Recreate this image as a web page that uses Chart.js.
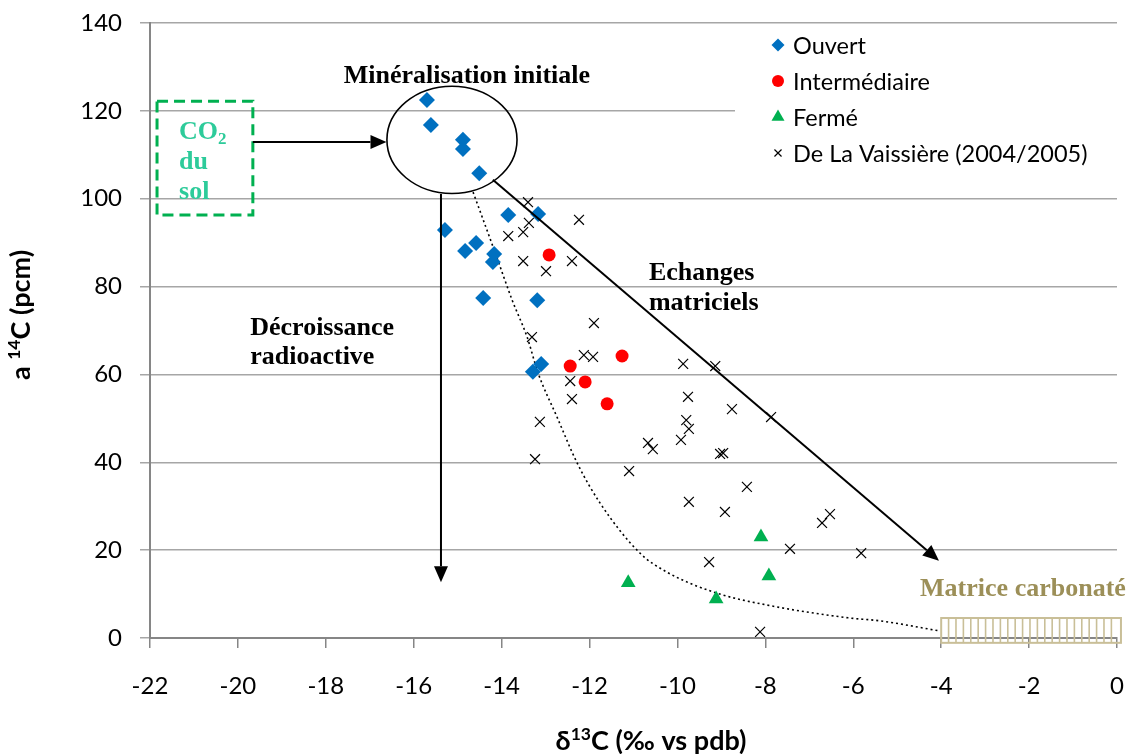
<!DOCTYPE html>
<html>
<head>
<meta charset="utf-8">
<script src="https://cdn.jsdelivr.net/npm/chart.js@4.4.1/dist/chart.umd.min.js"></script>
<style>
  html, body { margin: 0; padding: 0; background: #fff; }
  canvas { display: block; }
</style>
</head>
<body>
<canvas id="isoChart" width="1136" height="754"></canvas>
<script>
// d13C (‰ vs pdb) / a14C (pcm)
const ouvertX = [-15.70, -15.61, -14.88, -14.88, -14.51, -15.29, -13.85, -13.17, -14.58, -14.83, -14.17, -14.20, -14.42, -13.19, -13.10, -13.29];
const ouvertY = [122.5, 116.8, 113.4, 111.3, 105.8, 92.9, 96.3, 96.5, 89.9, 88.1, 87.4, 85.6, 77.4, 76.9, 62.4, 60.6];

const intermX = [-12.92, -12.44, -12.10, -11.26, -11.60];
const intermY = [87.2, 61.9, 58.3, 64.2, 53.3];

const fermeX = [-11.12, -9.12, -8.10, -7.92];
const fermeY = [12.6, 8.9, 23.0, 14.1];

const vaissiereX = [-13.40, -12.24, -13.38, -13.51, -13.85, -13.51, -12.40, -12.99, -11.90, -13.31,
  -12.13, -11.92, -9.87, -9.14, -12.44, -12.40, -9.76, -8.76, -7.87, -13.13,
  -9.80, -9.74, -9.92, -10.67, -10.56, -9.03, -8.96, -13.24, -11.10, -8.42,
  -9.74, -8.92, -6.53, -6.71, -7.44, -5.82, -9.28, -8.12];
const vaissiereY = [99.2, 95.2, 94.5, 92.4, 91.5, 85.8, 85.8, 83.5, 71.7, 68.5,
  64.4, 64.0, 62.4, 61.9, 58.5, 54.4, 54.9, 52.1, 50.3, 49.2,
  49.6, 47.6, 45.1, 44.4, 43.0, 41.9, 42.1, 40.7, 38.0, 34.4,
  31.0, 28.7, 28.2, 26.2, 20.3, 19.3, 17.3, 1.4];

// dotted mixing curve
const curveX = [-14.65, -14.15, -13.76, -13.42, -13.17, -12.74, -12.28, -11.76, -10.85, -10.24, -9.10, -7.96, -6.12, -5.39, -4.03];
const curveY = [101.5, 87.8, 76.9, 68.5, 60.3, 50.3, 39.8, 30.7, 19.3, 15.0, 10.2, 7.5, 4.6, 3.9, 1.6];

const seriesNames = ['Ouvert', 'Intermédiaire', 'Fermé', 'De La Vaissière (2004/2005)'];
const xTicks = [-22, -20, -18, -16, -14, -12, -10, -8, -6, -4, -2, 0];
const yTicks = [0, 20, 40, 60, 80, 100, 120, 140];

function pts(xs, ys) {
  return xs.map((x, i) => ({ x: x, y: ys[i] }));
}

const SANS = 'Lato';
const SERIF = '"Liberation Serif"';

const markers = [
  { pointStyle: 'rectRot', color: '#0070C0', radius: 8, legendRadius: 6.5 },
  { pointStyle: 'circle', color: '#FF0000', radius: 6.5, legendRadius: 6 },
  { pointStyle: 'triangle', color: '#00B050', radius: 8.5, legendRadius: 7.5 },
  { pointStyle: 'crossRot', color: '#000000', radius: 7, legendRadius: 5 }
];

const datasets = [
  { label: seriesNames[0], data: pts(ouvertX, ouvertY) },
  { label: seriesNames[1], data: pts(intermX, intermY) },
  { label: seriesNames[2], data: pts(fermeX, fermeY) },
  { label: seriesNames[3], data: pts(vaissiereX, vaissiereY) }
].map((d, i) => Object.assign(d, {
  pointStyle: markers[i].pointStyle,
  pointRadius: markers[i].radius,
  pointHoverRadius: markers[i].radius,
  backgroundColor: markers[i].color,
  borderColor: markers[i].color,
  pointBorderWidth: i === 3 ? 1.2 : 0,
  showLine: false
}));

datasets.push({
  label: 'courbe',
  data: pts(curveX, curveY),
  showLine: true,
  borderColor: '#000',
  borderWidth: 1.6,
  borderDash: [2, 3],
  pointRadius: 0,
  cubicInterpolationMode: 'monotone',
  fill: false
});

// annotation drawing (arrows, ellipse, boxes, labels, legend, axis titles)
function arrow(ctx, x1, y1, x2, y2) {
  const a = Math.atan2(y2 - y1, x2 - x1);
  const len = 16, hw = 7;
  const bx = x2 - Math.cos(a) * len, by = y2 - Math.sin(a) * len;
  ctx.beginPath();
  ctx.moveTo(x1, y1);
  ctx.lineTo(bx, by);
  ctx.stroke();
  ctx.beginPath();
  ctx.moveTo(x2, y2);
  ctx.lineTo(bx - Math.sin(a) * hw, by + Math.cos(a) * hw);
  ctx.lineTo(bx + Math.sin(a) * hw, by - Math.cos(a) * hw);
  ctx.closePath();
  ctx.fill();
}

function supText(ctx, parts, x, y, size, align) {
  // parts: [text, isSup]
  const widths = parts.map(p => {
    ctx.font = 'bold ' + (p[1] ? size * 0.65 : size) + 'px ' + SANS;
    return ctx.measureText(p[0]).width;
  });
  const total = widths.reduce((s, w) => s + w, 0);
  let cx = align === 'center' ? x - total / 2 : x;
  ctx.textAlign = 'left';
  ctx.textBaseline = 'alphabetic';
  parts.forEach((p, i) => {
    ctx.font = 'bold ' + (p[1] ? size * 0.65 : size) + 'px ' + SANS;
    ctx.fillText(p[0], cx, p[1] ? y - size * 0.38 : y);
    cx += widths[i];
  });
}

const annotations = {
  id: 'annotations',
  beforeDatasetsDraw(chart) {
    const ctx = chart.ctx;
    const a = chart.chartArea;
    ctx.save();
    ctx.fillStyle = '#fff';
    ctx.fillRect(735, a.top + 1, a.right - 735, chart.scales.y.getPixelForValue(100) - a.top - 2);
    ctx.restore();
  },
  afterDraw(chart) {
    const ctx = chart.ctx;
    const xs = chart.scales.x, ys = chart.scales.y;
    const px = v => xs.getPixelForValue(v);
    const py = v => ys.getPixelForValue(v);
    ctx.save();

    // CO2 du sol box
    ctx.strokeStyle = '#00B050';
    ctx.lineWidth = 3;
    ctx.setLineDash([11, 6]);
    ctx.strokeRect(px(-21.84), py(122.2), px(-19.66) - px(-21.84), py(96.3) - py(122.2));
    ctx.setLineDash([]);

    // ellipse "minéralisation initiale"
    ctx.strokeStyle = '#000';
    ctx.fillStyle = '#000';
    ctx.lineWidth = 1.6;
    ctx.beginPath();
    ctx.ellipse(px(-15.13), py(113.4), px(-15.13) - px(-16.61), py(101.2) - py(113.4), 0, 0, Math.PI * 2);
    ctx.stroke();

    // arrows
    ctx.lineWidth = 2;
    arrow(ctx, px(-19.66), py(112.9), px(-16.62), py(112.9));
    arrow(ctx, px(-15.38), py(101.1), px(-15.38), py(12.7));
    arrow(ctx, px(-14.20), py(104.3), px(-4.05), py(17.6));

    // Matrice carbonatée block
    const mx1 = px(-4.0), mx2 = px(0.09), my1 = py(4.55), my2 = py(-1.1);
    ctx.strokeStyle = '#C9BF98';
    ctx.lineWidth = 2;
    ctx.strokeRect(mx1, my1, mx2 - mx1, my2 - my1);
    ctx.lineWidth = 1.6;
    for (let x = mx1 + 7.4; x < mx2 - 3; x += 7.4) {
      ctx.beginPath();
      ctx.moveTo(x, my1);
      ctx.lineTo(x, my2);
      ctx.stroke();
    }

    // serif labels
    ctx.textBaseline = 'alphabetic';
    ctx.font = 'bold 26px ' + SERIF;
    ctx.fillStyle = '#000';
    ctx.textAlign = 'center';
    ctx.fillText('Minéralisation initiale', px(-14.79), py(126.3));
    ctx.textAlign = 'left';
    ctx.fillText('Echanges', px(-10.65), py(81.5));
    ctx.fillText('matriciels', px(-10.65), py(74.7));
    ctx.fillText('Décroissance', px(-19.72), py(69.0));
    ctx.fillText('radioactive', px(-19.72), py(62.4));

    ctx.fillStyle = '#2DCB9A';
    const cx = px(-21.34);
    ctx.fillText('CO', cx, py(113.6));
    const coW = ctx.measureText('CO').width;
    ctx.font = 'bold 17px ' + SERIF;
    ctx.fillText('2', cx + coW, py(113.6) + 5);
    ctx.font = 'bold 26px ' + SERIF;
    ctx.fillText('du', cx, py(106.8));
    ctx.fillText('sol', cx, py(99.9));

    ctx.fillStyle = '#9C8F58';
    ctx.fillText('Matrice carbonaté', px(-4.48), py(9.56));

    // legend
    ctx.font = '23.5px ' + SANS;
    ctx.textBaseline = 'middle';
    seriesNames.forEach((name, i) => {
      const y = 45 + i * 36;
      const m = markers[i];
      ctx.fillStyle = m.color;
      ctx.strokeStyle = m.color;
      ctx.lineWidth = 1.2;
      Chart.helpers.drawPoint(ctx, { pointStyle: m.pointStyle, radius: m.legendRadius, borderWidth: i === 3 ? 1.2 : 0, rotation: 0 }, 778, y);
      ctx.fillStyle = '#000';
      ctx.fillText(name, 793, y + 1);
    });

    // axis titles
    ctx.fillStyle = '#000';
    supText(ctx, [['δ', false], ['13', true], ['C (‰ vs pdb)', false]], 651, 750, 27, 'center');
    ctx.translate(30, 315);
    ctx.rotate(-Math.PI / 2);
    supText(ctx, [['a ', false], ['14', true], ['C (pcm)', false]], 0, 0, 27, 'center');

    ctx.restore();
  }
};

new Chart(document.getElementById('isoChart'), {
  type: 'scatter',
  data: { datasets: datasets },
  options: {
    responsive: false,
    animation: false,
    devicePixelRatio: 1,
    layout: { padding: { top: 23, right: 19, left: 0, bottom: 0 } },
    plugins: {
      legend: { display: false },
      tooltip: { enabled: false }
    },
    scales: {
      x: {
        type: 'linear',
        min: -22,
        max: 0,
        afterBuildTicks: s => { s.ticks = xTicks.map(v => ({ value: v })); },
        afterFit: s => { s.height = 116; s.paddingLeft = 0; s.paddingRight = 0; },
        ticks: { color: '#000', font: { family: SANS, size: 24 }, padding: 24, maxRotation: 0 },
        grid: { drawOnChartArea: false, tickLength: 10, color: '#868686', lineWidth: 1.5 },
        border: { color: '#868686', width: 2 }
      },
      y: {
        min: 0,
        max: 140,
        afterBuildTicks: s => { s.ticks = yTicks.map(v => ({ value: v })); },
        afterFit: s => { s.width = 150; s.paddingTop = 0; s.paddingBottom = 0; },
        ticks: { color: '#000', font: { family: SANS, size: 24 }, padding: 18 },
        grid: { tickLength: 10, color: '#A6A6A6', lineWidth: 1.5 },
        border: { color: '#868686', width: 2 }
      }
    }
  },
  plugins: [annotations]
});
</script>
</body>
</html>
